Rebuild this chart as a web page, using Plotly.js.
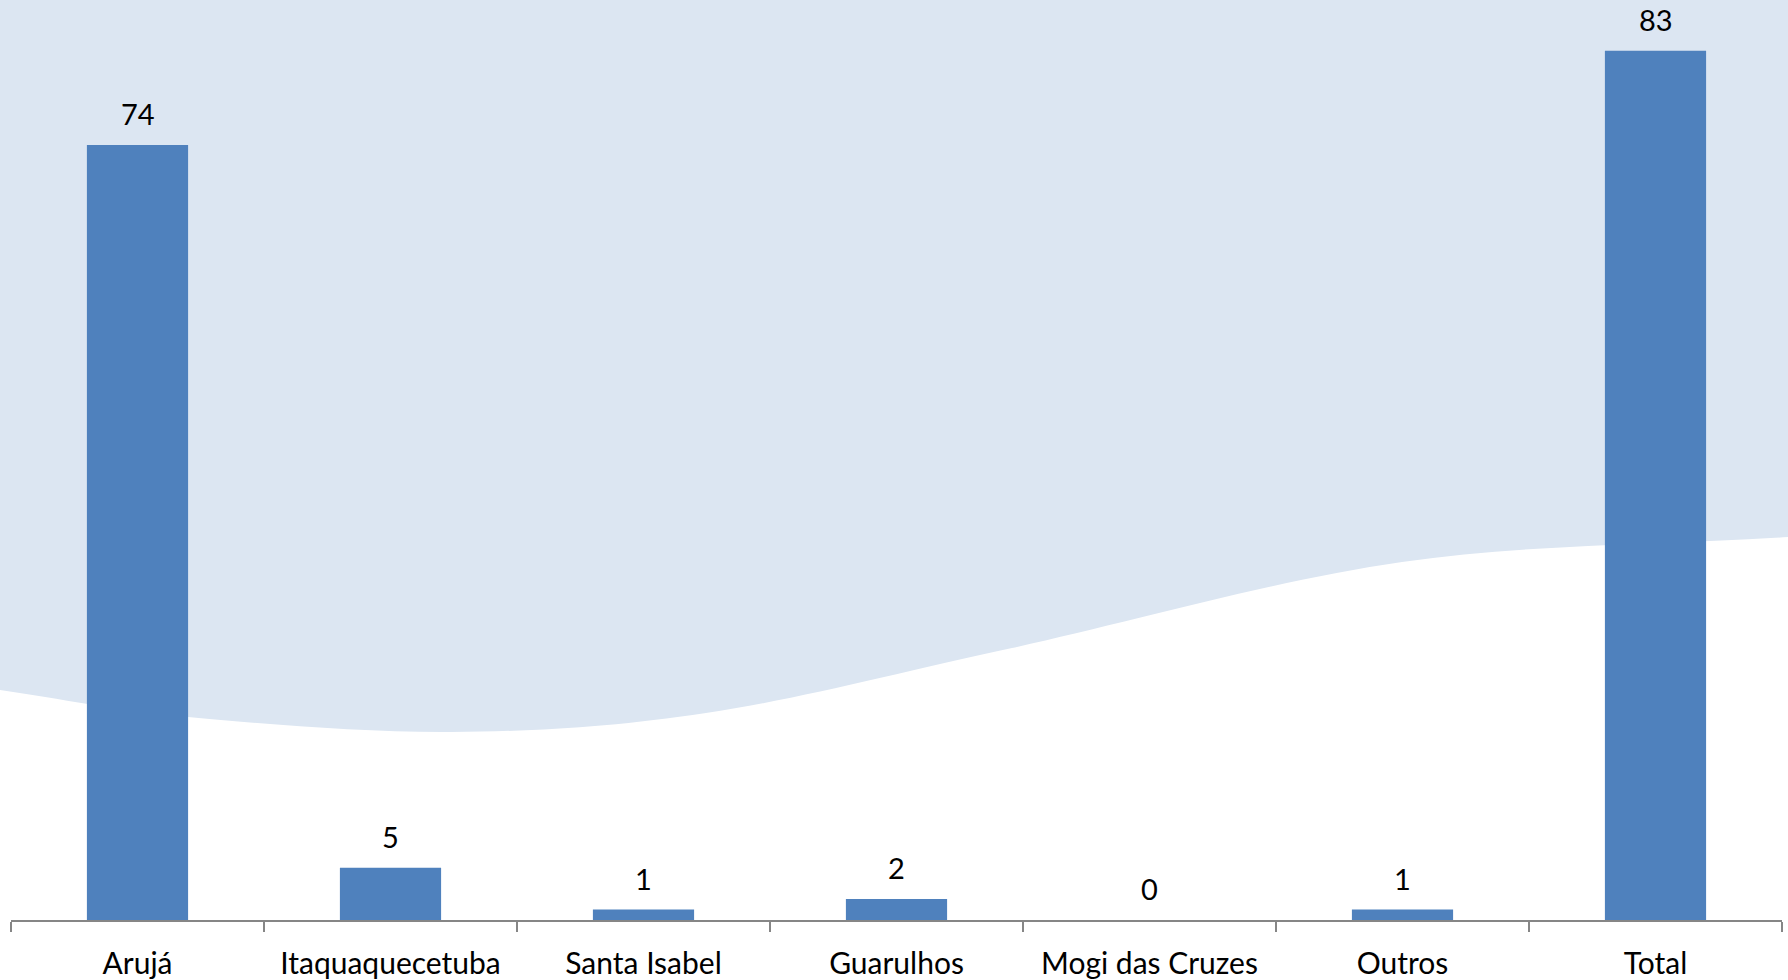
<!DOCTYPE html>
<html>
<head>
<meta charset="utf-8">
<script src="https://cdn.plot.ly/plotly-3.0.1.min.js"></script>
<style>
html,body{margin:0;padding:0;background:#ffffff;}
#chart{width:1788px;height:980px;}
</style>
</head>
<body>
<div id="chart"></div>
<script>
const categories = ["Arujá", "Itaquaquecetuba", "Santa Isabel", "Guarulhos", "Mogi das Cruzes", "Outros", "Total"];
const values = [74, 5, 1, 2, 0, 1, 83];

// Decorative background wave (pixel points of its lower edge)
const waveX = [0, 188, 451, 706, 1012, 1402, 1788];
const waveY = [690, 717, 732, 713, 648, 562, 537];

const W = 1788, H = 980;
const mL = 11, mR = 6, mT = 0, mB = 60;
const plotW = W - mL - mR, plotH = H - mT - mB;
const px = x => (x - mL) / plotW;
const py = y => (mT + plotH - y) / plotH;

function wavePath() {
  const pts = waveX.map((x, i) => [x, waveY[i]]);
  let d = `M ${px(-5)},${py(-5)} L ${px(-5)},${py(pts[0][1] - 1)} L ${px(pts[0][0])},${py(pts[0][1])}`;
  for (let i = 0; i < pts.length - 1; i++) {
    const p0 = i === 0 ? [2 * pts[0][0] - pts[1][0], 2 * pts[0][1] - pts[1][1]] : pts[i - 1];
    const p1 = pts[i], p2 = pts[i + 1];
    const p3 = i + 2 < pts.length ? pts[i + 2] : [2 * p2[0] - p1[0], 2 * p2[1] - p1[1]];
    const c1 = [p1[0] + (p2[0] - p0[0]) / 6, p1[1] + (p2[1] - p0[1]) / 6];
    const c2 = [p2[0] - (p3[0] - p1[0]) / 6, p2[1] - (p3[1] - p1[1]) / 6];
    d += ` C ${px(c1[0])},${py(c1[1])} ${px(c2[0])},${py(c2[1])} ${px(p2[0])},${py(p2[1])}`;
  }
  d += ` L ${px(W + 5)},${py(waveY[waveY.length - 1])} L ${px(W + 5)},${py(-5)} Z`;
  return d;
}

const yMax = 87.84;

const trace = {
  type: 'bar',
  x: categories,
  y: values,
  marker: { color: '#4F81BD', line: { width: 0 } },
  hoverinfo: 'x+y'
};

const annotations = categories.map((c, i) => ({
  x: c, y: values[i], xref: 'x', yref: 'y',
  text: String(values[i]), showarrow: false,
  yanchor: 'bottom', yshift: 12,
  font: { family: 'Lato, "Open Sans", sans-serif', size: 29, color: '#000000' }
}));

const layout = {
  width: W, height: H,
  margin: { l: mL, r: mR, t: mT, b: mB, pad: 0 },
  paper_bgcolor: '#ffffff',
  plot_bgcolor: 'rgba(0,0,0,0)',
  showlegend: false,
  bargap: 0.6,
  font: { family: 'Lato, "Open Sans", sans-serif', size: 30, color: '#000000' },
  xaxis: {
    type: 'category',
    range: [-0.5, categories.length - 0.5],
    showline: true, linecolor: '#868686', linewidth: 1.5,
    ticks: 'outside', tickson: 'boundaries', ticklen: 10, tickcolor: '#868686', tickwidth: 1.5,
    ticklabelstandoff: 16,
    showgrid: false, zeroline: false,
    tickfont: { family: 'Lato, "Open Sans", sans-serif', size: 30, color: '#000000' }
  },
  yaxis: {
    range: [0, yMax], visible: false, showgrid: false, zeroline: false
  },
  shapes: [{
    type: 'path', xref: 'paper', yref: 'paper', layer: 'below',
    path: wavePath(), fillcolor: '#DCE6F2', line: { width: 0 }
  }],
  annotations: annotations
};

Plotly.newPlot('chart', [trace], layout, { displayModeBar: false, staticPlot: true });
</script>
</body>
</html>
